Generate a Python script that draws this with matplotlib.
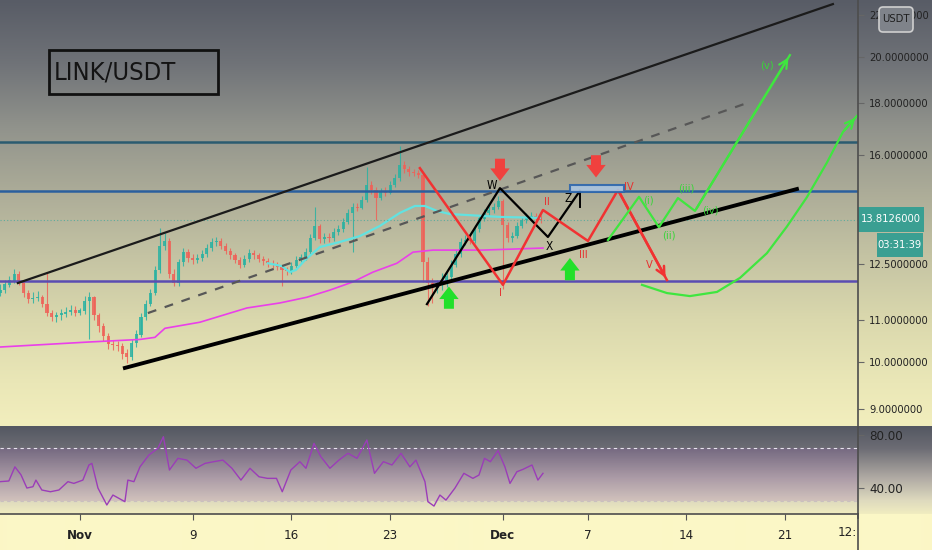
import numpy as np
import matplotlib
matplotlib.use("Agg")
import matplotlib.pyplot as plt
from matplotlib import font_manager
from matplotlib.patches import Rectangle, FancyBboxPatch
from matplotlib.ticker import NullLocator

# the chart uses a narrow sans; take a condensed/narrow face if one is installed
narrow = None
for fam, stretch in [('Liberation Sans Narrow', 'normal'), ('DejaVu Sans', 'condensed'),
                     ('Liberation Sans', 'condensed')]:
    try:
        path = font_manager.findfont(font_manager.FontProperties(family=fam, stretch=stretch),
                                     fallback_to_default=False)
    except Exception:
        continue
    if 'Narrow' in path or 'Condensed' in path:
        narrow = (fam, stretch)
        break
if narrow:
    plt.rcParams['font.family'] = [narrow[0], 'DejaVu Sans']
    plt.rcParams['font.stretch'] = narrow[1]
else:
    plt.rcParams['font.family'] = ['Liberation Sans', 'DejaVu Sans']

# x axis is in days from Nov 1 00:00, 8h candles starting Oct 26 08:00
candle_start = -17 / 3
candle_step = 1 / 3
first_open = 11.70
closes = [11.78, 11.92, 12.03, 12.22, 12.00, 11.70, 11.54, 11.57, 11.59, 11.41,
          11.18, 11.08, 11.12, 11.16, 11.21, 11.26, 11.17, 11.24, 11.49, 11.59,
          11.13, 10.85, 10.61, 10.42, 10.39, 10.37, 10.19, 10.12, 10.44, 10.64,
          11.08, 11.41, 11.70, 12.33, 13.02, 13.17, 12.22, 11.97, 12.55, 12.84,
          12.67, 12.61, 12.67, 12.78, 12.96, 13.14, 13.17, 13.02, 12.87, 12.75,
          12.61, 12.47, 12.64, 12.81, 12.75, 12.64, 12.58, 12.52, 12.47, 12.41,
          12.33, 12.30, 12.44, 12.61, 12.69, 12.84, 13.26, 13.63, 13.23, 13.29,
          13.26, 13.44, 13.53, 13.75, 14.04, 14.22, 14.20, 14.45, 14.95, 14.79,
          14.52, 14.72, 14.68, 14.95, 15.19, 15.65, 15.50, 15.40, 15.37, 15.30,
          12.55, 11.97, 11.84, 11.92, 11.95, 12.14, 12.47, 12.78, 13.14, 13.20,
          13.18, 13.53, 13.85, 14.04, 14.13, 14.22, 14.42, 13.66, 13.26, 13.32,
          13.63, 13.81, 13.91, 13.94, 13.88, 13.81]
highs = [11.95, 12.05, 12.15, 12.35, 12.30, 12.05, 11.78, 11.72, 11.75, 11.66,
         12.27, 11.25, 11.20, 11.28, 11.33, 11.38, 11.35, 11.32, 11.62, 11.72,
         11.62, 11.18, 10.92, 10.68, 10.52, 10.50, 10.45, 10.30, 10.55, 10.75,
         11.18, 11.52, 11.82, 12.45, 13.55, 13.40, 13.25, 12.35, 12.65, 12.95,
         12.92, 12.78, 12.80, 12.90, 13.08, 13.25, 13.30, 13.25, 13.10, 12.95,
         12.82, 12.70, 12.75, 12.92, 12.90, 12.82, 12.72, 12.66, 12.60, 12.55,
         12.48, 12.42, 12.55, 12.72, 12.80, 12.95, 13.38, 14.22, 13.70, 13.40,
         13.40, 13.55, 13.65, 13.88, 14.15, 14.35, 14.35, 14.58, 15.58, 15.10,
         14.88, 14.85, 14.88, 15.08, 15.32, 16.35, 15.78, 15.62, 15.52, 15.48,
         15.38, 12.70, 12.10, 12.05, 12.25, 12.28, 12.60, 12.90, 13.25, 13.35,
         13.32, 13.65, 13.98, 14.15, 14.25, 14.35, 14.60, 14.50, 13.75, 13.45,
         13.75, 13.92, 14.05, 14.08, 14.02, 13.98]
lows = [11.62, 11.70, 11.85, 11.98, 11.92, 11.60, 11.45, 11.45, 11.48, 11.33,
        11.10, 10.98, 10.96, 11.00, 11.08, 11.12, 11.10, 11.12, 11.15, 10.55,
        11.00, 10.72, 10.50, 10.30, 10.28, 10.26, 10.08, 9.97, 10.05, 10.35,
        10.58, 11.00, 11.35, 11.65, 12.25, 12.90, 12.10, 11.88, 11.90, 12.45,
        12.55, 12.50, 12.52, 12.58, 12.70, 12.88, 13.02, 12.92, 12.78, 12.65,
        12.52, 12.38, 12.40, 12.55, 12.65, 12.55, 12.48, 12.42, 12.38, 12.32,
        11.90, 12.18, 12.22, 12.38, 12.55, 12.60, 12.78, 13.20, 13.12, 13.12,
        13.15, 13.18, 13.35, 13.45, 13.68, 12.85, 14.10, 14.15, 14.38, 14.65,
        13.81, 14.45, 14.60, 14.65, 14.88, 15.10, 15.38, 15.28, 15.25, 15.18,
        12.00, 11.35, 11.44, 11.70, 11.78, 11.85, 12.05, 12.40, 12.70, 13.05,
        13.08, 13.12, 13.45, 13.78, 13.95, 14.05, 14.15, 11.80, 13.15, 13.15,
        13.25, 13.55, 13.72, 13.80, 13.75, 13.72]
last_price = 13.8126

# moving averages
ema_days = [13.33, 14.32, 14.89, 15.32, 15.96, 17.02, 18.44, 19.86, 21.28, 22.70,
            23.76, 24.47, 25.32, 26.24, 27.45, 29.79, 32.62]
ema_vals = [12.52, 12.44, 12.27, 12.33, 12.61, 12.99, 13.14, 13.32, 13.63, 14.04,
            14.26, 14.26, 14.10, 14.00, 13.97, 13.91, 13.88]
ma_days = [-5.67, 0.71, 4.26, 5.32, 6.03, 8.51, 11.84, 14.18, 16.10, 17.73,
           19.36, 20.78, 22.48, 23.62, 25.04, 28.58, 32.84]
ma_vals = [10.35, 10.47, 10.53, 10.58, 10.80, 10.95, 11.31, 11.44, 11.59, 11.78,
           12.00, 12.27, 12.52, 12.84, 12.90, 12.90, 12.96]

# RSI
rsi_days = [-5.67, -5.04, -4.61, -4.18, -3.76, -3.33, -3.12, -2.70, -2.09, -1.49,
            -0.85, -0.43, 0.21, 0.64, 0.85, 1.28, 1.91, 2.34, 2.77, 3.19,
            3.40, 3.83, 4.26, 4.89, 5.53, 5.92, 6.35, 6.95, 7.59, 8.23,
            8.87, 9.50, 10.14, 10.78, 11.42, 12.06, 12.70, 13.30, 13.94, 14.35,
            14.96, 15.60, 16.03, 16.60, 17.09, 17.73, 18.37, 19.01, 19.65, 20.35,
            20.89, 21.52, 22.13, 22.77, 23.40, 23.83, 24.47, 24.68, 25.11, 25.53,
            25.96, 26.60, 27.23, 27.87, 28.30, 28.69, 29.11, 29.65, 30.14, 30.50,
            30.99, 31.42, 32.06, 32.48, 32.84]
rsi_vals = [44.8, 45.3, 56.0, 50.0, 40.0, 41.0, 46.0, 38.5, 37.2, 38.5,
            44.8, 43.5, 46.0, 57.4, 58.6, 40.0, 27.2, 34.7, 32.2, 29.7,
            46.0, 44.8, 56.0, 64.9, 70.0, 78.7, 53.6, 62.4, 61.1, 54.9,
            58.6, 59.9, 61.1, 54.9, 46.0, 54.9, 48.5, 47.3, 47.3, 37.2,
            53.6, 59.9, 54.9, 73.7, 63.6, 54.9, 61.1, 66.2, 62.4, 76.2,
            51.1, 59.9, 57.4, 66.2, 56.0, 61.1, 44.8, 29.7, 26.4, 34.7,
            30.9, 40.0, 51.1, 47.3, 49.8, 62.4, 59.9, 68.2, 56.0, 43.5,
            52.3, 54.1, 57.4, 46.0, 51.1]

# drawings
levels = [16.49, 14.77, 12.03]
level_colors = ['#2b5b70', '#2a5f9e', '#5a4cb2']
upper_days, upper_prices = [-4.40, 53.40], [11.97, 22.56]
lower_days, lower_prices = [3.19, 50.85], [9.87, 14.82]
mid_days, mid_prices = [4.82, 47.52], [11.18, 18.06]

red_days = [24.11, 30.00, 32.84, 36.03, 38.16, 41.63]
red_prices = [15.54, 11.92, 14.13, 13.17, 14.79, 12.05]
red_labels = ['I', 'II', 'III', 'IV', 'V']
red_label_days = [29.79, 33.12, 35.67, 38.94, 40.35]
red_label_prices = [11.70, 14.39, 12.75, 14.89, 12.47]

black_days = [24.61, 29.79, 33.19, 35.46]
black_prices = [11.41, 14.85, 13.29, 14.76]
black_labels = ['W', 'X', 'Z']
black_label_days = [29.22, 33.26, 34.61]
black_label_prices = [14.95, 13.02, 14.52]

green_days = [37.45, 39.65, 41.06, 42.41, 43.62, 50.35]
green_prices = [13.20, 14.56, 13.59, 14.52, 14.10, 20.09]
green_labels = ['(i)', '(ii)', '(iii)', '(iv)', '(v)']
green_label_days = [40.35, 41.77, 42.98, 44.68, 48.72]
green_label_prices = [14.45, 13.32, 14.85, 14.10, 19.63]

arc_days = [39.86, 41.63, 43.26, 45.18, 46.81, 48.72, 50.14, 51.56, 52.98, 54.11, 55.11]
arc_prices = [11.92, 11.70, 11.62, 11.73, 12.11, 12.81, 13.61, 14.55, 15.74, 16.87, 17.50]

up_arrow_days, up_arrow_prices = [26.17, 34.75], [11.95, 12.75]
down_arrow_days, down_arrow_prices = [29.79, 36.60], [15.00, 15.12]
box_days, box_prices = [34.75, 38.58], [14.71, 14.95]

price_ticks = [22, 20, 18, 16, 12.5, 11, 10, 9]
time_ticks = [0, 8, 15, 22, 30, 36, 43, 50]
time_labels = ['Nov', '9', '16', '23', 'Dec', '7', '14', '21']

W, H = 932, 550
X_LEFT, X_RIGHT = candle_start, 55.18

fig = plt.figure(figsize=(W / 100, H / 100), dpi=100)
renderer = fig.canvas.get_renderer()


def fit_size(s, width_px, base=10.0, cap=None):
    t = fig.text(0, 0, s, fontsize=base)
    w = t.get_window_extent(renderer).width
    t.remove()
    size = base * width_px / w
    return min(size, cap) if cap else size


AX_FS = fit_size('20.0000000', 61, cap=10)
TITLE_FS = fit_size('LINK/USDT', 122, base=20, cap=21)
TIME_FS = 9.5

# background gradient (one column, stretched)
def ramp(rows, stops):
    pos = [s[0] for s in stops]
    cols = np.array([s[1] for s in stops], float)
    t = np.linspace(0, 1, rows)
    return np.stack([np.interp(t, pos, cols[:, k]) for k in range(3)], axis=1)

main_part = ramp(426, [(0, (88, 92, 102)), (0.15, (112, 115, 120)), (0.3, (145, 147, 140)),
                       (0.45, (172, 172, 152)), (0.6, (196, 195, 163)), (0.75, (218, 216, 173)),
                       (0.9, (234, 231, 183)), (1.0, (242, 238, 189))])
rsi_part = ramp(88, [(0, (84, 88, 98)), (0.25, (108, 108, 116)), (0.6, (178, 172, 165)),
                     (0.85, (222, 218, 190)), (1.0, (240, 236, 192))])
axis_part = np.tile([[251, 247, 198]], (36, 1)).astype(float)
grad = np.vstack([main_part, rsi_part, axis_part])[:, None, :] / 255.0

bg = fig.add_axes([0, 0, 1, 1], zorder=0)
bg.imshow(grad, aspect='auto', extent=[0, 1, 0, 1], interpolation='bilinear')
bg.set_xlim(0, 1)
bg.set_ylim(0, 1)
bg.axis('off')

ax = fig.add_axes([0, 1 - 426 / H, 858 / W, 426 / H], zorder=1)
rax = fig.add_axes([0, 1 - 514 / H, 858 / W, 88 / H], zorder=1)
for a in (ax, rax):
    a.patch.set_alpha(0)
    for s in a.spines.values():
        s.set_visible(False)

# price pane
ax.set_yscale('log')
ax.set_ylim(8.65, 22.77)
ax.set_xlim(X_LEFT, X_RIGHT)

n = len(closes)
days = candle_start + np.arange(n) * candle_step
opens = np.r_[first_open, closes[:-1]]
closes_a = np.array(closes)
up = closes_a >= opens
col = np.where(up, '#2ab2a2', '#ef6158')
ax.vlines(days, lows, highs, colors=col, lw=0.8, alpha=0.85, zorder=2)
ax.bar(days, np.abs(closes_a - opens) + 0.01, bottom=np.minimum(opens, closes_a),
       width=0.22, color=col, alpha=0.85, zorder=2, linewidth=0)

ax.plot(ma_days, ma_vals, color='#ea3fea', lw=1.2, zorder=3)
ax.plot(ema_days, ema_vals, color='#62e2e0', lw=1.6, zorder=3)

for lvl, c in zip(levels, level_colors):
    ax.axhline(lvl, color=c, lw=1.8, zorder=3)
ax.axhline(last_price, color='#4aa89c', lw=0.8, ls=(0, (1, 2)), alpha=0.8, zorder=3)

ax.plot(upper_days, upper_prices, color='#1b1b1b', lw=1.6, zorder=4)
ax.plot(lower_days, lower_prices, color='#000000', lw=2.8, zorder=4)
ax.plot(mid_days, mid_prices, color='#575757', lw=1.6, ls=(0, (4, 4)), zorder=4)

# elliott waves
ax.plot(black_days, black_prices, color='black', lw=1.6, zorder=5)
ax.plot([black_days[-1]] * 2, [black_prices[-1], 14.22], color='black', lw=1.4, zorder=5)
for t, d, p in zip(black_labels, black_label_days, black_label_prices):
    ax.text(d, p, t, color='black', fontsize=8.5, ha='center', va='center', zorder=6)

ax.plot(red_days, red_prices, color='#f13232', lw=1.8, zorder=5)
ax.annotate('', xy=(red_days[-1], red_prices[-1]), xytext=(red_days[-2], red_prices[-2]),
            arrowprops=dict(arrowstyle='->,head_length=0.6,head_width=0.3', color='#f13232', lw=1.8),
            zorder=5)
for t, d, p in zip(red_labels, red_label_days, red_label_prices):
    ax.text(d, p, t, color='#e63030', fontsize=8, ha='center', va='center', zorder=6)

ax.plot(green_days, green_prices, color='#3fe63f', lw=1.6, zorder=5)
ax.annotate('', xy=(green_days[-1], green_prices[-1]), xytext=(green_days[-2], green_prices[-2]),
            arrowprops=dict(arrowstyle='->,head_length=0.6,head_width=0.3', color='#3fe63f', lw=1.6),
            zorder=5)
for t, d, p in zip(green_labels, green_label_days, green_label_prices):
    ax.text(d, p, t, color='#3ad43a', fontsize=8, ha='center', va='center', zorder=6)

ax.plot(arc_days, arc_prices, color='#3fe63f', lw=1.6, zorder=5)
ax.annotate('', xy=(arc_days[-1], arc_prices[-1]), xytext=(arc_days[-2], arc_prices[-2]),
            arrowprops=dict(arrowstyle='->,head_length=0.6,head_width=0.3', color='#3fe63f', lw=1.6),
            zorder=5)

arrow_style = 'simple,head_length=0.45,head_width=0.7,tail_width=0.36'
for d, p in zip(up_arrow_days, up_arrow_prices):
    ax.annotate('', xy=(d, p), xytext=(0, -20), textcoords='offset points',
                arrowprops=dict(arrowstyle=arrow_style, fc='#22e02a', ec='none', mutation_scale=20),
                zorder=6)
for d, p in zip(down_arrow_days, down_arrow_prices):
    ax.annotate('', xy=(d, p), xytext=(0, 20), textcoords='offset points',
                arrowprops=dict(arrowstyle=arrow_style, fc='#f0413e', ec='none', mutation_scale=20),
                zorder=6)

ax.add_patch(Rectangle((box_days[0], box_prices[0]), box_days[1] - box_days[0],
                       box_prices[1] - box_prices[0], fc='#a9c4e0', ec='#2d66ad', lw=1.5,
                       alpha=0.9, zorder=5))

ax.set_xticks([])
ax.yaxis.set_minor_locator(NullLocator())
ax.set_yticks(price_ticks)
ax.set_yticklabels([f'{v:.7f}' for v in price_ticks])
ax.tick_params(axis='y', which='both', left=False, labelleft=False, right=True, labelright=True,
               length=4, color='#666666', labelsize=AX_FS, pad=4, labelcolor='#222222')

# rsi pane
rax.set_xlim(X_LEFT, X_RIGHT)
rax.set_ylim(20.4, 86.8)
rax.axhspan(30, 70, color='#9a60b4', alpha=0.2, lw=0, zorder=1)
rax.axhline(70, color='#e8e4ee', lw=0.8, ls=(0, (3, 3)), zorder=2)
rax.axhline(30, color='#c9bfbf', lw=0.8, ls=(0, (3, 3)), zorder=2)
rax.plot(rsi_days, rsi_vals, color='#9b3db8', lw=1.0, zorder=3)
rax.yaxis.tick_right()
rax.set_yticks([80, 40])
rax.set_yticklabels(['80.00', '40.00'])
rax.set_xticks(time_ticks)
rax.set_xticklabels(time_labels)
rax.tick_params(axis='y', length=4, color='#666666', labelsize=TIME_FS, pad=4, labelcolor='#222222')
rax.tick_params(axis='x', length=4, color='#555555', labelsize=TIME_FS, pad=7, labelcolor='#222222')
for lab in rax.get_xticklabels():
    if lab.get_text() in ('Nov', 'Dec'):
        lab.set_fontweight('bold')

# overlay: borders, title box and price-scale badges
top = fig.add_axes([0, 0, 1, 1], zorder=5)
top.patch.set_alpha(0)
top.set_xlim(0, W)
top.set_ylim(H, 0)
top.axis('off')
top.plot([858, 858], [0, H], color='#4d4d4d', lw=1.2)
top.plot([0, 858], [514, 514], color='#4d4d4d', lw=1.2)
top.plot([858, 858], [514, 518], color='#4d4d4d', lw=1.2)
top.text(857, 533, '12:', ha='right', va='center', fontsize=TIME_FS, color='#222222')

top.add_patch(Rectangle((49, 50), 169, 44, fill=False, ec='#111111', lw=2))
top.text(54, 72, 'LINK/USDT', fontsize=TITLE_FS, ha='left', va='center', color='#141414')

top.add_patch(FancyBboxPatch((879, 7), 34, 25, boxstyle='round,pad=0,rounding_size=4',
                             fc='#7f838a', ec='#cfcfcf', lw=1.2))
top.text(896, 19.5, 'USDT', fontsize=AX_FS, ha='center', va='center', color='#1e1e1e')

top.add_patch(Rectangle((858, 207), 66, 25, fc='#3a9f92', ec='none'))
top.text(891, 219.5, '13.8126000', fontsize=AX_FS, ha='center', va='center', color='white')
top.add_patch(Rectangle((877, 233), 46, 24, fc='#3a9f92', ec='none'))
top.text(900, 245, '03:31:39', fontsize=AX_FS, ha='center', va='center', color='white')

fig.savefig('out.png', dpi=100)
